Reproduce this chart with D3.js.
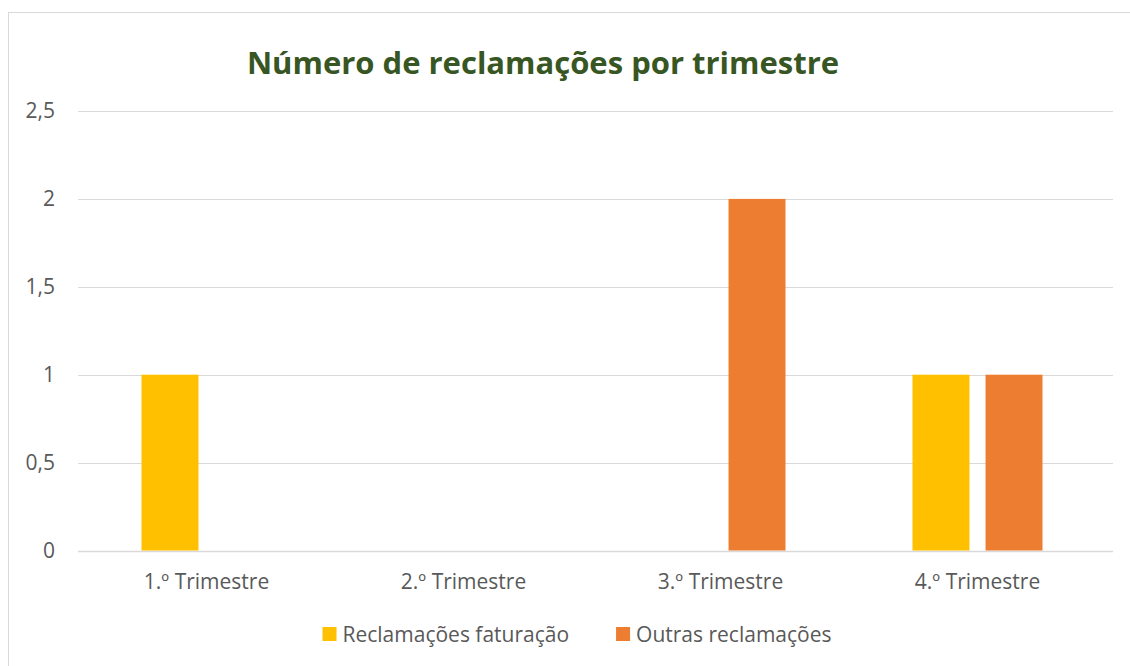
<!DOCTYPE html>
<html>
<head>
<meta charset="utf-8">
<title>Número de reclamações por trimestre</title>
<script src="https://d3js.org/d3.v7.min.js"></script>
<style>
  body { margin: 0; background: #fff; }
  text { font-family: "Open Sans", "Noto Sans", sans-serif; fill: #595959; }
</style>
</head>
<body>
<svg id="chart" width="1130" height="666"></svg>
<script>
// data
var categories = ["1.º Trimestre", "2.º Trimestre", "3.º Trimestre", "4.º Trimestre"];
var seriesNames = ["Reclamações faturação", "Outras reclamações"];
var faturacao = [1, 0, 0, 1];
var outras = [0, 0, 2, 1];
var yTicks = [0, 0.5, 1, 1.5, 2, 2.5];
var colors = ["#FFC000", "#ED7D31"];

var svg = d3.select("#chart");

// chart frame (runs off the right and bottom edges like the screenshot)
svg.append("rect")
   .attr("x", 8.5).attr("y", 12.5)
   .attr("width", 1140).attr("height", 700)
   .attr("fill", "none")
   .attr("stroke", "#d9d9d9");

var plotLeft = 78, plotRight = 1113, bandRight = 1106;

var x = d3.scaleBand()
          .domain(categories)
          .range([plotLeft, bandRight]);

var x1 = d3.scaleBand()
           .domain(seriesNames)
           .range([0, 130])
           .paddingInner(0.22);

var y = d3.scaleLinear()
          .domain([0, 2.5])
          .range([550.5, 111]);

var fmt = function(d) { return String(d).replace(".", ","); };

// gridlines
svg.append("g").selectAll("line")
   .data(yTicks)
   .enter().append("line")
   .attr("x1", plotLeft).attr("x2", plotRight)
   .attr("y1", function(d){ return Math.round(y(d)) + 0.5; })
   .attr("y2", function(d){ return Math.round(y(d)) + 0.5; })
   .attr("stroke", "#d9d9d9")
   .attr("stroke-width", function(d){ return d === 0 ? 1.5 : 1; });

// y labels
svg.append("g").selectAll("text")
   .data(yTicks)
   .enter().append("text")
   .attr("x", 55)
   .attr("y", function(d){ return y(d); })
   .attr("dy", "0.35em")
   .attr("text-anchor", "end")
   .style("font-size", "21px")
   .text(fmt);

// bars
var rows = categories.map(function(c, i) {
    return { cat: c, values: [faturacao[i], outras[i]] };
});

var groups = svg.append("g").selectAll("g")
   .data(rows)
   .enter().append("g")
   .attr("transform", function(d){
       return "translate(" + (x(d.cat) + x.bandwidth() / 2 - 65) + ",0)";
   });

groups.selectAll("rect")
   .data(function(d){ return d.values.map(function(v, j){ return { name: seriesNames[j], v: v, j: j }; }); })
   .enter().append("rect")
   .filter(function(d){ return d.v > 0; })
   .attr("x", function(d){ return x1(d.name); })
   .attr("width", x1.bandwidth())
   .attr("y", function(d){ return y(d.v); })
   .attr("height", function(d){ return y(0) - y(d.v); })
   .attr("fill", function(d){ return colors[d.j]; });

// x labels
svg.append("g").selectAll("text")
   .data(categories)
   .enter().append("text")
   .attr("x", function(d){ return x(d) + x.bandwidth() / 2; })
   .attr("y", 589)
   .attr("text-anchor", "middle")
   .style("font-size", "21px")
   .text(function(d){ return d; });

// title
svg.append("text")
   .attr("x", 543)
   .attr("y", 74)
   .attr("text-anchor", "middle")
   .style("font-size", "31px")
   .style("font-weight", "bold")
   .style("fill", "#375623")
   .text("Número de reclamações por trimestre");

// legend
var legend = svg.append("g");
var items = legend.selectAll("g")
   .data(seriesNames)
   .enter().append("g");
items.append("rect")
   .attr("width", 14).attr("height", 14)
   .attr("y", 627)
   .attr("fill", function(d, i){ return colors[i]; });
items.append("text")
   .attr("x", 20)
   .attr("y", 642)
   .style("font-size", "21px")
   .text(function(d){ return d; });

var widths = [];
items.each(function(){ widths.push(this.getBBox().width); });
var gap = 47;
var total = d3.sum(widths) + gap * (widths.length - 1);
var lx = 577 - total / 2;
items.attr("transform", function(d, i){
    var t = "translate(" + lx + ",0)";
    lx += widths[i] + gap;
    return t;
});
</script>
</body>
</html>
